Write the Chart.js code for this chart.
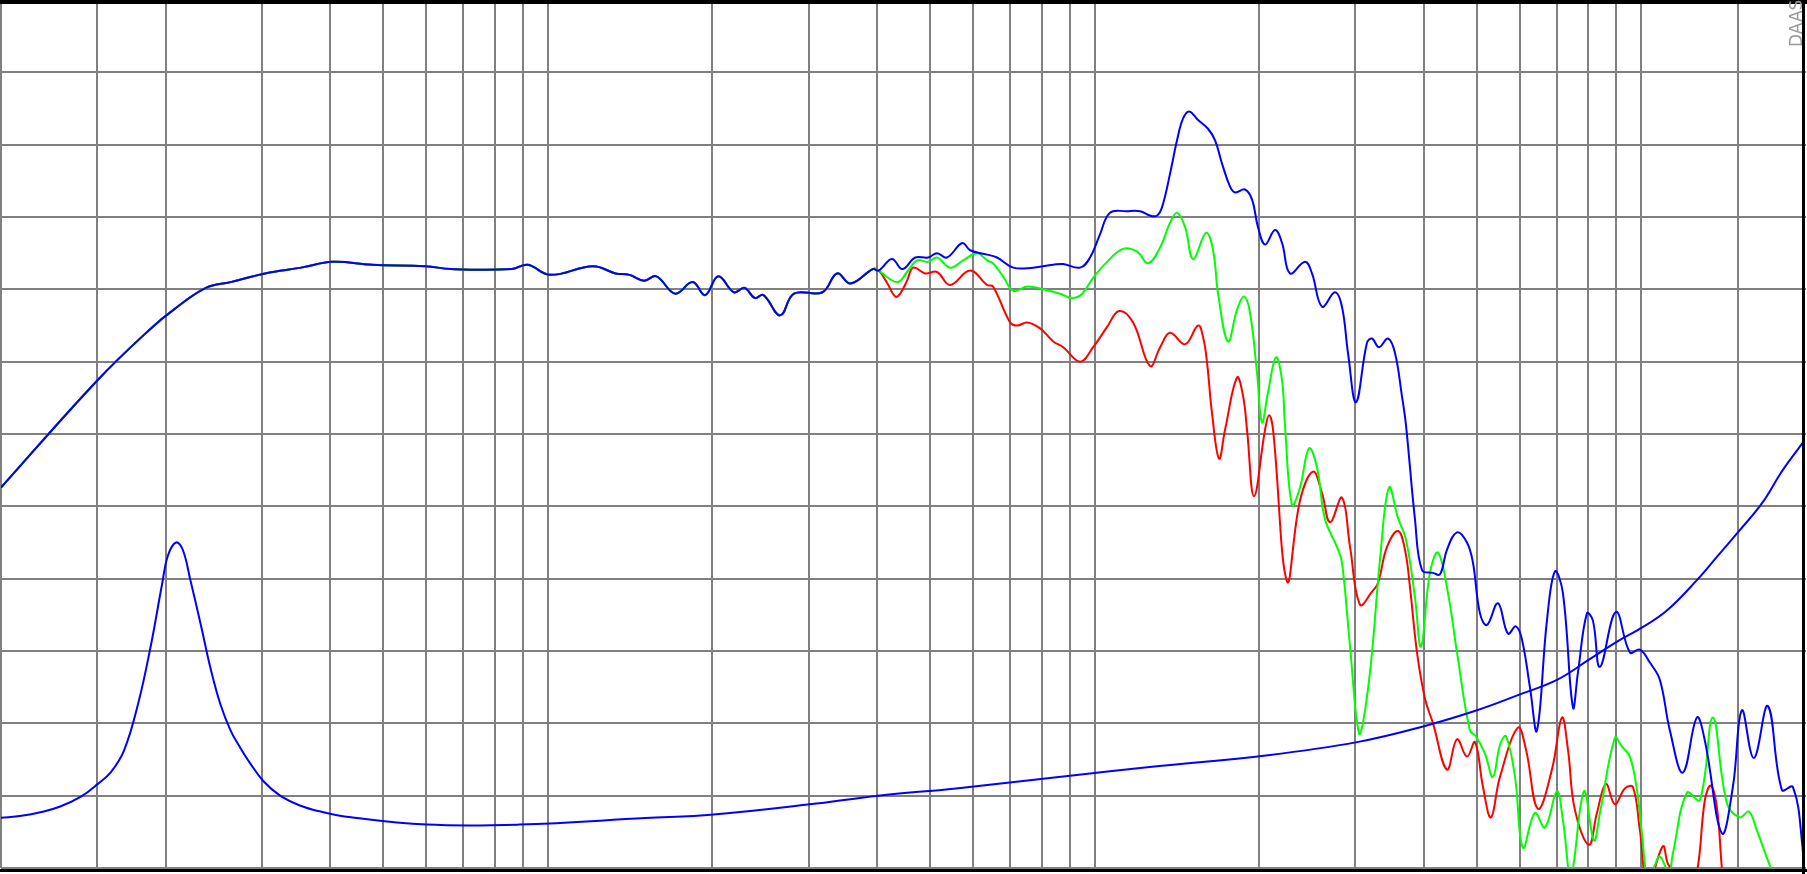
<!DOCTYPE html>
<html>
<head>
<meta charset="utf-8">
<title>DAAS</title>
<script src="https://cdn.jsdelivr.net/npm/chart.js@4.4.0/dist/chart.umd.min.js"></script>
<style>
html,body{margin:0;padding:0;background:#fff;overflow:hidden;}
canvas{display:block;}
</style>
</head>
<body>
<canvas id="respChart" width="1807" height="874"></canvas>
<script>
// grid lines (Hz), no labels on this plot
var gridFreq = [10, 15, 20, 30, 40, 50, 60, 70, 80, 90, 100, 200, 300, 400, 500, 600, 700, 800, 900,
    1000, 2000, 3000, 4000, 5000, 6000, 7000, 8000, 9000, 10000, 15000];

// all three SPL curves are identical up to ~400 Hz
var commonFreq = [10, 15.0, 18.8, 20.7, 23.7, 26.3, 30.4, 35.4, 40.4, 47.7, 59.8, 66.5,
    86.0, 91.9, 101, 121, 133, 141, 150, 158, 171, 184, 194, 205, 219, 229, 239, 248, 266, 282, 318, 338, 358, 393, 403];
var commonDb = [66.3, 73.7, 77.3, 78.6, 80.1, 80.5, 81.1, 81.5, 81.9, 81.7, 81.6, 81.4,
    81.4, 81.7, 81.0, 81.6, 81.1, 81.0, 80.6, 80.9, 79.7, 80.5, 79.6, 80.9, 79.8, 80.1, 79.4, 79.6, 78.2, 79.7, 79.8, 81.1, 80.4, 81.4, 81.3];

var blueFreq = [426, 445, 470, 496, 515, 537, 573, 592, 636, 663, 710, 772, 840, 876, 941, 981, 1023, 1067, 1147, 1211,
    1263, 1301, 1329, 1374, 1415, 1451, 1489, 1546, 1612, 1661, 1710, 1769, 1807, 1884, 1941, 1990, 2050, 2138, 2202, 2277,
    2426, 2498, 2606, 2752, 2834, 2907, 3007, 3149, 3216, 3312, 3440, 3543, 3649, 3711, 3854, 3969, 4158, 4282, 4410, 4600,
    4797, 4920, 5067, 5219, 5466, 5701, 5896, 6047, 6254, 6441, 6718, 6948, 7186, 7495, 7655, 7950, 8154, 8398, 8983, 9528,
    9937, 10364, 10810, 11275, 11909, 12632, 13064, 14034, 14699, 15266, 16058, 17031, 18065, 18921, 19652, 20000];
var blueDb = [82.1, 81.4, 82.2, 82.2, 82.5, 82.2, 83.2, 82.7, 82.4, 82.2, 81.5, 81.5, 81.7, 81.75, 81.5, 82.2, 83.8, 85.3, 85.4, 85.4,
    85.1, 85.1, 85.7, 88.0, 90.3, 91.8, 92.3, 91.7, 91.1, 90.3, 88.7, 87.1, 86.7, 86.9, 86.2, 84.3, 83.1, 84.1, 83.2, 81.1,
    81.9, 81.1, 78.8, 79.8, 78.8, 75.6, 72.2, 76.3, 76.6, 76.0, 76.6, 75.6, 72.6, 70.6, 64.1, 60.6, 60.4, 60.3, 62.0, 63.2,
    62.5, 61.1, 57.6, 56.8, 58.3, 56.2, 56.7, 55.8, 52.5, 49.5, 57.1, 60.5, 59.0, 51.1, 53.5, 57.6, 57.1, 53.9, 57.7, 54.9,
    55.1, 54.2, 53.0, 49.5, 46.6, 50.4, 48.8, 42.4, 45.6, 50.9, 47.6, 51.2, 45.4, 45.6, 41.9, 37.0];

var greenFreq = [419, 437, 454, 474, 496, 515, 544, 575, 610, 636, 652, 680, 710, 753, 805, 865, 910, 949, 994, 1054,
    1127, 1196, 1253, 1318, 1374, 1415, 1464, 1514, 1599, 1647, 1682, 1754, 1822, 1876, 1924, 1982, 2024, 2076, 2147, 2202,
    2230, 2297, 2375, 2467, 2551, 2639, 2775, 2834, 2932, 3045, 3123, 3216, 3326, 3455, 3588, 3711, 3854, 3953, 4105, 4246,
    4429, 4600, 4858, 4983, 5175, 5352, 5512, 5653, 5872, 6073, 6387, 6662, 7007, 7186, 7432, 7851, 8188, 8398, 8945, 9212,
    9528, 9813, 10021, 10277, 10585, 10810, 11227, 11418, 12111, 12792, 13512, 14332, 15139, 15723, 16262, 17249, 18296];
var greenDb = [80.8, 80.5, 81.2, 82.0, 81.9, 82.2, 81.5, 82.0, 82.5, 82.0, 81.8, 80.9, 79.9, 80.2, 80.0, 79.7, 79.4, 79.7, 80.8, 81.9,
    82.8, 82.6, 81.8, 82.9, 84.6, 85.3, 84.3, 82.1, 83.9, 82.7, 79.7, 76.4, 78.6, 79.5, 78.4, 74.2, 70.8, 72.9, 75.3, 73.7,
    70.5, 65.1, 66.3, 69.0, 67.7, 64.1, 62.2, 61.1, 55.3, 49.3, 50.9, 54.9, 61.3, 66.3, 64.2, 62.7, 58.7, 55.3, 60.4, 61.8,
    59.0, 54.9, 49.5, 49.1, 47.9, 46.3, 48.5, 49.1, 46.3, 41.4, 43.8, 42.8, 45.3, 43.3, 39.5, 45.3, 41.9, 43.8, 49.0, 48.4,
    47.7, 45.4, 42.4, 39.2, 40.2, 40.8, 39.7, 41.0, 45.2, 44.7, 50.4, 44.5, 43.5, 43.9, 42.6, 40.0, 37.8];

var redFreq = [418, 432, 441, 454, 466, 490, 515, 544, 592, 636, 652, 701, 722, 753, 795, 840, 876, 941, 994, 1054,
    1109, 1176, 1263, 1318, 1374, 1464, 1546, 1579, 1606, 1640, 1689, 1732, 1822, 1869, 1900, 1957, 2050, 2085, 2120, 2249,
    2375, 2509, 2606, 2695, 2834, 2932, 3058, 3216, 3298, 3426, 3588, 3695, 3774, 3887, 4020, 4158, 4410, 4600, 4797, 4962,
    5132, 5307, 5512, 5946, 6150, 6468, 6861, 7156, 7339, 7559, 8018, 8292, 8613, 8945, 9329, 9649, 9937, 10277, 10947, 11180,
    11563, 12060, 12685, 13064, 13399, 13741, 14034, 14514];
var redDb = [80.4, 79.5, 79.7, 80.6, 81.5, 81.1, 81.2, 80.3, 81.3, 80.3, 80.2, 77.7, 77.5, 77.7, 77.3, 76.4, 76.0, 75.0, 76.0, 77.4,
    78.5, 77.7, 74.7, 76.0, 77.0, 76.2, 77.5, 76.7, 74.9, 71.4, 68.3, 70.3, 73.9, 72.6, 70.3, 65.7, 70.3, 71.3, 70.3, 59.8,
    65.4, 67.4, 65.9, 63.9, 65.6, 62.2, 58.2, 59.1, 59.7, 62.2, 63.3, 62.0, 59.4, 54.9, 51.7, 50.0, 46.8, 48.9, 47.7, 48.7,
    45.6, 43.5, 46.3, 49.7, 48.2, 44.1, 46.8, 50.4, 48.2, 44.0, 41.6, 43.8, 45.8, 44.4, 45.5, 45.6, 42.6, 38.8, 41.5, 40.3,
    39.5, 36.4, 40.1, 44.7, 45.7, 44.2, 40.0, 34.3];

// impedance curve, drawn on the same grid
var impFreq = [10, 10.9, 11.8, 12.8, 14.0, 15.0, 15.9, 16.8, 17.8, 18.8, 19.7, 20.2, 20.9, 21.5, 22.2, 23.2, 24.2, 25.2, 26.3, 27.4,
    28.6, 30.2, 32.4, 35.3, 38.4, 42.8, 60.0, 88.7, 151, 201, 301, 402, 558, 910, 1274, 2076, 3019, 4003, 5004, 5996,
    7007, 8018, 8983, 10000, 11133, 12632, 13741, 15011, 16607, 17915, 18685, 19735];
var impDb = [43.47, 43.61, 43.85, 44.23, 44.93, 45.78, 46.65, 48.15, 51.3, 55.4, 59.6, 61.6, 62.5, 62.0, 59.9, 56.8, 53.7, 51.3, 49.5, 48.3,
    47.2, 46.0, 45.0, 44.3, 43.9, 43.55, 43.0, 43.0, 43.45, 43.7, 44.4, 45.0, 45.5, 46.4, 47.0, 47.8, 48.7, 49.8, 50.9, 52.0,
    53.0, 54.4, 55.6, 56.6, 57.8, 59.9, 61.5, 63.2, 65.2, 67.2, 68.2, 69.4];

var main = {
    init: function(){
        this.createChart();
    },

    points: function(freq, db){
        return freq.map(function(f, i){
            return {x: f, y: db[i]};
        });
    },

    line: function(label, color, freq, db){
        return {
            label: label,
            data: this.points(freq, db),
            borderColor: color,
            backgroundColor: color,
            borderWidth: 2,
            pointRadius: 0,
            fill: false,
            tension: 0.4
        };
    },

    createChart: function(){
        var frame = {
            id: 'frame',
            afterDraw: function(chart){
                var ctx = chart.ctx;
                var area = chart.chartArea;
                ctx.save();
                ctx.fillStyle = '#000';
                ctx.fillRect(0, 0, chart.width, 4);
                ctx.fillRect(area.right - 4, 0, 3, chart.height);
                ctx.fillRect(0, area.bottom + 1, chart.width, 3);
                ctx.fillStyle = '#999';
                ctx.font = '17px "DejaVu Sans"';
                ctx.textBaseline = 'alphabetic';
                ctx.translate(area.right - 4, 47);
                ctx.rotate(-Math.PI / 2);
                ctx.fillText('DAAS', 0, 0);
                ctx.restore();
            }
        };

        var grid = {color: '#808080', lineWidth: 2, drawTicks: false};

        this.chart = new Chart(document.getElementById('respChart'), {
            type: 'line',
            data: {
                datasets: [
                    this.line('SPL 0°', '#0000ff', commonFreq.concat(blueFreq), commonDb.concat(blueDb)),
                    this.line('Impedance', '#0000ff', impFreq, impDb),
                    this.line('SPL 30°', '#00ff00', commonFreq.concat(greenFreq), commonDb.concat(greenDb)),
                    this.line('SPL 60°', '#ff0000', commonFreq.concat(redFreq), commonDb.concat(redDb))
                ]
            },
            options: {
                responsive: false,
                animation: false,
                devicePixelRatio: 1,
                events: [],
                layout: {padding: {left: 1, right: 1, top: 0, bottom: 6}},
                plugins: {legend: {display: false}, tooltip: {enabled: false}},
                scales: {
                    x: {
                        type: 'logarithmic',
                        min: 10,
                        max: 20000,
                        afterBuildTicks: function(scale){
                            scale.ticks = gridFreq.map(function(v){ return {value: v}; });
                        },
                        ticks: {display: false},
                        grid: grid,
                        border: {display: false}
                    },
                    y: {
                        min: 40,
                        max: 100,
                        ticks: {display: false, stepSize: 5},
                        grid: grid,
                        border: {display: false}
                    }
                }
            },
            plugins: [frame]
        });
    }
};

main.init();
</script>
</body>
</html>
